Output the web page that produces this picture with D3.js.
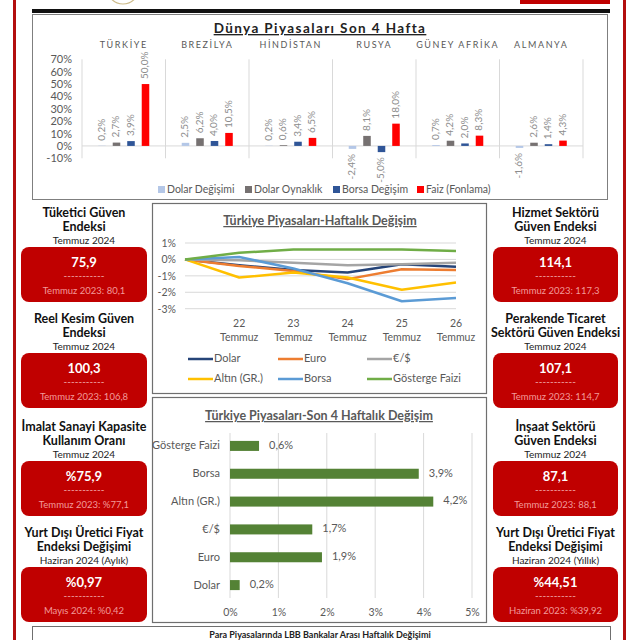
<!DOCTYPE html>
<html><head><meta charset="utf-8">
<script src="https://cdn.jsdelivr.net/npm/d3@7"></script>
<style>
html,body{margin:0;padding:0;background:#fff;}
svg{display:block;font-family:Lato,"Open Sans",sans-serif;}
</style></head>
<body>
<svg id="c" width="640" height="640"></svg>
<script>
// ---------- DATA ----------
const countries = ["TÜRKİYE","BREZİLYA","HİNDİSTAN","RUSYA","GÜNEY AFRİKA","ALMANYA"];
const worldSeries = ["Dolar Değişimi","Dolar Oynaklık","Borsa Değişim","Faiz (Fonlama)"];
const dolarDegisimi = [0.2, 2.5, 0.2, -2.4, 0.7, -1.6];
const dolarOynaklik = [2.7, 6.2, 0.6, 8.1, 4.2, 2.6];
const borsaDegisim  = [3.9, 4.0, 3.4, -5.0, 2.0, 1.4];
const faizFonlama   = [50.0, 10.5, 6.5, 18.0, 8.3, 4.3];
const worldTicks = [-10,0,10,20,30,40,50,60,70];

const weekDates = ["19 Temmuz","22 Temmuz","23 Temmuz","24 Temmuz","25 Temmuz","26 Temmuz"];
const weekLabels = ["", "22 Temmuz","23 Temmuz","24 Temmuz","25 Temmuz","26 Temmuz"];
const lineSeries = ["Dolar","Euro","€/$","Altın (GR.)","Borsa","Gösterge Faizi"];
const lineDolar  = [0, -0.35, -0.65, -0.8, -0.3, -0.45];
const lineEuro   = [0, -0.4, -0.7, -1.2, -0.6, -0.65];
const lineEurUsd = [0, -0.05, -0.2, -0.35, -0.3, -0.2];
const lineAltin  = [0, -1.1, -0.8, -1.1, -1.85, -1.4];
const lineBorsa  = [0, 0.15, -0.55, -1.45, -2.55, -2.35];
const lineFaiz   = [0, 0.4, 0.6, 0.6, 0.6, 0.52];
const lineTicks = [-3,-2,-1,0,1];

const barCats = ["Gösterge Faizi","Borsa","Altın (GR.)","€/$","Euro","Dolar"];
const barVals = [0.6, 3.9, 4.2, 1.7, 1.9, 0.2];
const barTicks = [0,1,2,3,4,5];

const leftTitles = [["Tüketici Güven","Endeksi"],["Reel Kesim Güven","Endeksi"],["İmalat Sanayi Kapasite","Kullanım Oranı"],["Yurt Dışı Üretici Fiyat","Endeksi Değişimi"]];
const leftSubs = ["Temmuz 2024","Temmuz 2024","Temmuz 2024","Haziran 2024 (Aylık)"];
const leftValues = ["75,9","100,3","%75,9","%0,97"];
const leftPrev = ["Temmuz 2023: 80,1","Temmuz 2023: 106,8","Temmuz 2023: %77,1","Mayıs 2024: %0,42"];
const rightTitles = [["Hizmet Sektörü","Güven Endeksi"],["Perakende Ticaret","Sektörü Güven Endeksi"],["İnşaat Sektörü","Güven Endeksi"],["Yurt Dışı Üretici Fiyat","Endeksi Değişimi"]];
const rightSubs = ["Temmuz 2024","Temmuz 2024","Temmuz 2024","Haziran 2024 (Yıllık)"];
const rightValues = ["114,1","107,1","87,1","%44,51"];
const rightPrev = ["Temmuz 2023: 117,3","Temmuz 2023: 114,7","Temmuz 2023: 88,1","Haziran 2023: %39,92"];

// ---------- DRAW ----------
const svg = d3.select("#c");
const RED = "#C00000", GRAY = "#595959", GRID = "#d9d9d9";

// frame decorations
svg.append("rect").attr("x",13).attr("y",0).attr("width",3).attr("height",640).attr("fill","#b30f0f");
svg.append("rect").attr("x",623).attr("y",0).attr("width",3).attr("height",640).attr("fill","#b30f0f");
svg.append("rect").attr("x",32).attr("y",9).attr("width",578).attr("height",4).attr("fill","#111");
svg.append("rect").attr("x",520).attr("y",0).attr("width",90).attr("height",4).attr("fill",RED);
svg.append("circle").attr("cx",123).attr("cy",-12).attr("r",16).attr("fill","none").attr("stroke","#cdbb8a").attr("stroke-width",1.2);

// ===== Top chart =====
svg.append("rect").attr("x",32.5).attr("y",14.5).attr("width",575).attr("height",185).attr("fill","#fff").attr("stroke","#7f7f7f");
svg.append("text").attr("x",320).attr("y",33).attr("text-anchor","middle")
  .attr("font-size",13.5).attr("font-weight","bold").attr("letter-spacing",1.4).attr("fill","#222")
  .attr("text-decoration","underline").text("Dünya Piyasaları Son 4 Hafta");

const yW = d3.scaleLinear().domain([-10,70]).range([158.3,59.3]);
const xC = d3.scaleBand().domain(countries).range([82,583]).padding(0);
const xS = d3.scaleBand().domain(worldSeries).range([-29,29]).paddingInner(0.48).paddingOuter(0.24);
const worldColors = d3.scaleOrdinal().domain(worldSeries).range(["#B4C7E7","#767171","#2F5597","#FF0000"]);
const worldData = [dolarDegisimi,dolarOynaklik,borsaDegisim,faizFonlama];

// separators
const seps = countries.map(c=>xC(c)).concat([xC.range()[1]]);
svg.append("g").selectAll("line").data(seps).join("line")
  .attr("x1",d=>d).attr("x2",d=>d).attr("y1",yW(70)).attr("y2",yW(-10))
  .attr("stroke",GRID).attr("stroke-width",1);
// y axis
const yAxW = svg.append("g").attr("transform","translate(82,0)")
  .call(d3.axisLeft(yW).tickValues(worldTicks).tickFormat(d=>d+"%").tickSize(0).tickPadding(10));
yAxW.select(".domain").remove();
yAxW.selectAll("text").attr("font-size",11).attr("fill",GRAY).attr("font-family","Lato,sans-serif");
// zero line
svg.append("line").attr("x1",82).attr("x2",583).attr("y1",yW(0)).attr("y2",yW(0)).attr("stroke",GRID);
// country labels
svg.append("g").selectAll("text").data(countries).join("text")
  .attr("x",d=>xC(d)+xC.bandwidth()/2).attr("y",48).attr("text-anchor","middle")
  .attr("font-size",9).attr("letter-spacing",1.6).attr("fill",GRAY).text(d=>d);
// bars
const flat = [];
countries.forEach((c,i)=>worldSeries.forEach((s,j)=>flat.push({c,s,v:worldData[j][i]})));
const cx = d=>xC(d.c)+xC.bandwidth()/2 + xS(d.s) + xS.bandwidth()/2;
svg.append("g").selectAll("rect").data(flat).join("rect")
  .attr("x",d=>xC(d.c)+xC.bandwidth()/2 + xS(d.s))
  .attr("width",xS.bandwidth())
  .attr("y",d=>yW(Math.max(0,d.v)))
  .attr("height",d=>Math.abs(yW(d.v)-yW(0)))
  .attr("fill",d=>worldColors(d.s));
svg.append("g").selectAll("text").data(flat).join("text")
  .attr("transform",d=>{const y = d.v>=0 ? yW(d.v)-5 : yW(d.v)+5; return `translate(${cx(d)},${y}) rotate(-90)`;})
  .attr("text-anchor",d=>d.v>=0?"start":"end").attr("dominant-baseline","middle")
  .attr("font-size",10).attr("fill","#8c8c8c")
  .text(d=>d3.format(".1f")(d.v).replace(".",",").replace("−","-")+"%");
// legend
const legX = [158,245,333,417];
const lg = svg.append("g").selectAll("g").data(worldSeries).join("g")
  .attr("transform",(d,i)=>`translate(${legX[i]},190)`);
lg.append("rect").attr("x",0).attr("y",-4).attr("width",7).attr("height",7).attr("fill",d=>worldColors(d));
lg.append("text").attr("x",9).attr("y",0).attr("dominant-baseline","middle").attr("font-size",10.5).attr("fill",GRAY).text(d=>d);

// ===== Line chart =====
svg.append("rect").attr("x",152.5).attr("y",203.5).attr("width",334).attr("height",190).attr("fill","#fff").attr("stroke","#6f6f6f").attr("stroke-width",1.2);
svg.append("text").attr("x",320).attr("y",225).attr("text-anchor","middle")
  .attr("font-size",12.5).attr("font-weight","bold").attr("fill",GRAY)
  .attr("text-decoration","underline").text("Türkiye Piyasaları-Haftalık Değişim");
const yL = d3.scaleLinear().domain([-3,1]).range([308.7,243]);
const xL = d3.scalePoint().domain(weekDates).range([185,456]);
svg.append("g").selectAll("line").data(lineTicks).join("line")
  .attr("x1",185).attr("x2",456).attr("y1",d=>yL(d)).attr("y2",d=>yL(d)).attr("stroke",GRID);
const yAxL = svg.append("g").attr("transform","translate(185,0)")
  .call(d3.axisLeft(yL).tickValues(lineTicks).tickFormat(d=>d+"%").tickSize(0).tickPadding(9));
yAxL.select(".domain").remove();
yAxL.selectAll("text").attr("font-size",10.5).attr("fill",GRAY).attr("font-family","Lato,sans-serif");
const xlab = svg.append("g").selectAll("text").data(weekDates).join("text")
  .attr("x",d=>xL(d)).attr("text-anchor","middle").attr("font-size",10.5).attr("fill",GRAY);
xlab.append("tspan").attr("x",d=>xL(d)).attr("y",327).text((d,i)=>weekLabels[i].split(" ")[0]||"");
xlab.append("tspan").attr("x",d=>xL(d)).attr("y",341).text((d,i)=>weekLabels[i].split(" ")[1]||"");
const lineColors = d3.scaleOrdinal().domain(lineSeries).range(["#264478","#ED7D31","#A5A5A5","#FFC000","#5B9BD5","#70AD47"]);
const lineData = [lineDolar,lineEuro,lineEurUsd,lineAltin,lineBorsa,lineFaiz];
const lineGen = d3.line().x((d,i)=>xL(weekDates[i])).y(d=>yL(d));
svg.append("g").selectAll("path").data(lineSeries).join("path")
  .attr("d",(s,i)=>lineGen(lineData[i])).attr("fill","none")
  .attr("stroke",s=>lineColors(s)).attr("stroke-width",2.5).attr("stroke-linejoin","round");
const llx = [188,278,367], lly=[359,379];
const ll = svg.append("g").selectAll("g").data(lineSeries).join("g")
  .attr("transform",(d,i)=>`translate(${llx[i%3]},${lly[Math.floor(i/3)]})`);
ll.append("line").attr("x1",0).attr("x2",25).attr("y1",0).attr("y2",0).attr("stroke",d=>lineColors(d)).attr("stroke-width",2.5);
ll.append("text").attr("x",26).attr("y",0).attr("dominant-baseline","middle").attr("font-size",11).attr("fill",GRAY).text(d=>d);

// ===== Bar chart =====
svg.append("rect").attr("x",152.5).attr("y",397.5).attr("width",334).attr("height",225).attr("fill","#fff").attr("stroke","#6f6f6f").attr("stroke-width",1.2);
svg.append("text").attr("x",319).attr("y",420).attr("text-anchor","middle")
  .attr("font-size",12.5).attr("font-weight","bold").attr("fill",GRAY)
  .attr("text-decoration","underline").text("Türkiye Piyasaları-Son 4 Haftalık Değişim");
const xB = d3.scaleLinear().domain([0,5]).range([230,472]);
const yB = d3.scaleBand().domain(barCats).range([432,599]).paddingInner(0.64).paddingOuter(0.32);
svg.append("g").selectAll("line").data(barTicks).join("line")
  .attr("x1",d=>xB(d)).attr("x2",d=>xB(d)).attr("y1",433).attr("y2",598).attr("stroke",GRID);
const xAxB = svg.append("g").attr("transform","translate(0,606)")
  .call(d3.axisBottom(xB).tickValues(barTicks).tickFormat(d=>d+"%").tickSize(0).tickPadding(3));
xAxB.select(".domain").remove();
xAxB.selectAll("text").attr("font-size",10.5).attr("fill",GRAY).attr("font-family","Lato,sans-serif");
const yAxB = svg.append("g").attr("transform","translate(230,0)")
  .call(d3.axisLeft(yB).tickSize(0).tickPadding(10));
yAxB.select(".domain").remove();
yAxB.selectAll("text").attr("font-size",11).attr("fill",GRAY).attr("font-family","Lato,sans-serif");
svg.append("g").selectAll("rect").data(barCats).join("rect")
  .attr("x",xB(0)).attr("y",d=>yB(d)).attr("height",yB.bandwidth())
  .attr("width",(d,i)=>xB(barVals[i])-xB(0)).attr("fill","#548235");
svg.append("g").selectAll("text").data(barCats).join("text")
  .attr("x",(d,i)=>xB(barVals[i])+10).attr("y",d=>yB(d)+yB.bandwidth()/2)
  .attr("dominant-baseline","middle").attr("font-size",11).attr("fill",GRAY)
  .text((d,i)=>String(barVals[i].toFixed(1)).replace(".",",")+"%");

// ===== Side panels =====
const panelTops = [205,311,419,525];
function panels(cxp, x0, w, titles, subs, vals, prevs){
  const g = svg.append("g").selectAll("g").data(titles).join("g")
    .attr("transform",(d,i)=>`translate(0,${panelTops[i]})`);
  g.append("text").attr("x",cxp).attr("y",11.5).attr("text-anchor","middle").attr("font-size",12.5).attr("font-weight","bold").attr("fill","#111").text(d=>d[0]);
  g.append("text").attr("x",cxp).attr("y",25.5).attr("text-anchor","middle").attr("font-size",12.5).attr("font-weight","bold").attr("fill","#111").text(d=>d[1]);
  g.append("text").attr("x",cxp).attr("y",38.5).attr("text-anchor","middle").attr("font-size",10).attr("fill","#222").text((d,i)=>subs[i]);
  g.append("rect").attr("x",x0).attr("y",42).attr("width",w).attr("height",55).attr("rx",8).attr("fill",RED);
  g.append("text").attr("x",cxp).attr("y",61.5).attr("text-anchor","middle").attr("font-size",13).attr("font-weight","bold").attr("fill","#fff").text((d,i)=>vals[i]);
  g.append("text").attr("x",cxp).attr("y",74).attr("text-anchor","middle").attr("font-size",10).attr("fill","#f3b1b1").text("-----------");
  g.append("text").attr("x",cxp).attr("y",88.5).attr("text-anchor","middle").attr("font-size",9.5).attr("fill","#f29a9a").text((d,i)=>prevs[i]);
}
panels(84, 21, 126, leftTitles, leftSubs, leftValues, leftPrev);
panels(555.5, 493, 125, rightTitles, rightSubs, rightValues, rightPrev);

// bottom box
svg.append("rect").attr("x",32.5).attr("y",626.5).attr("width",578).attr("height",30).attr("fill","#fff").attr("stroke","#6f6f6f");
svg.append("text").attr("x",320).attr("y",637.5).attr("text-anchor","middle").attr("font-size",9).attr("font-weight","bold").attr("fill","#222")
  .text("Para Piyasalarında LBB Bankalar Arası Haftalık Değişimi");
</script>
</body></html>
